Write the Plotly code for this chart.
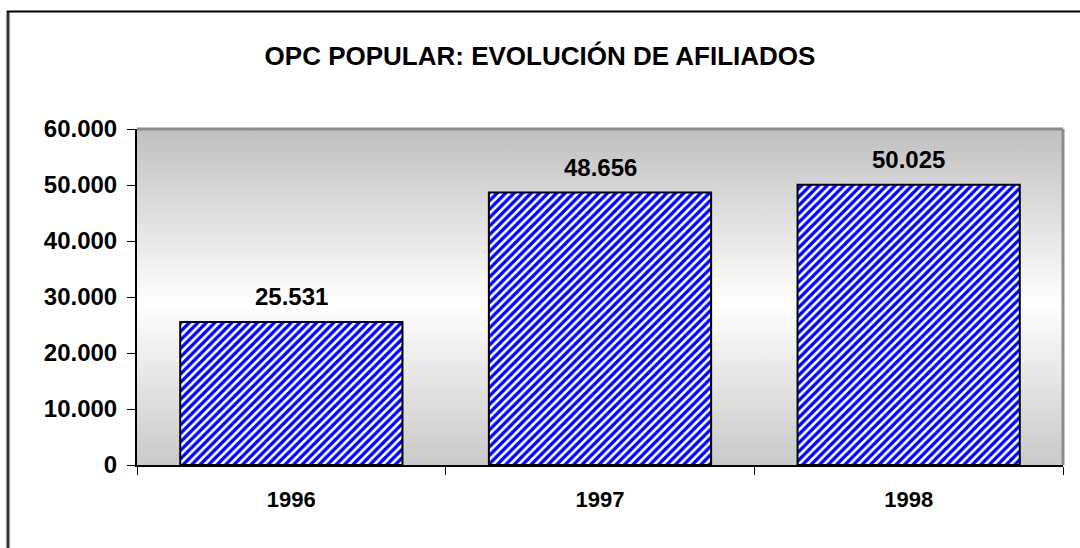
import base64
import plotly.graph_objects as go

years = ["1996", "1997", "1998"]
afiliados = [25531, 48656, 50025]
y_ticks = [0, 10000, 20000, 30000, 40000, 50000, 60000]
title_text = "OPC POPULAR: EVOLUCIÓN DE AFILIADOS"

W, H = 1080, 548
L, R, T, B = 137, 1063, 129, 465

FONT = "Liberation Sans, Arial, sans-serif"

svg = (
    '<svg xmlns="http://www.w3.org/2000/svg" width="100" height="100" preserveAspectRatio="none">'
    '<defs><linearGradient id="g" x1="0" y1="0" x2="0" y2="1">'
    '<stop offset="0" stop-color="#c0c0c0"/>'
    '<stop offset="0.52" stop-color="#ffffff"/>'
    '<stop offset="1" stop-color="#c9c9c9"/>'
    '</linearGradient></defs>'
    '<rect width="100" height="100" fill="url(#g)"/></svg>'
)
svg_uri = "data:image/svg+xml;base64," + base64.b64encode(svg.encode()).decode()

fig = go.Figure()
fig.add_trace(go.Bar(
    x=years, y=afiliados,
    marker=dict(
        color="white",
        opacity=1,
        line=dict(color="black", width=2),
        pattern=dict(shape="/", fgcolor="#0000ff", bgcolor="white",
                     fgopacity=1, fillmode="replace", size=6, solidity=0.55),
    ),
    hoverinfo="skip",
))

for i, v in enumerate(afiliados):
    fig.add_annotation(
        x=i, y=v, text=f"{v:,}".replace(",", "."),
        showarrow=False, yanchor="bottom", yshift=10,
        font=dict(family=FONT, size=24, color="black", weight="bold"),
    )

def px_x(p):
    return (p - L) / (R - L)

def px_y(p):
    return (B - p) / (B - T)

# outer chart border (cropped)
fig.add_shape(type="line", xref="paper", yref="paper",
              x0=px_x(8), x1=px_x(8), y0=px_y(11), y1=px_y(560),
              line=dict(color="#333333", width=3))
fig.add_shape(type="line", xref="paper", yref="paper",
              x0=px_x(7), x1=px_x(1090), y0=px_y(11.5), y1=px_y(11.5),
              line=dict(color="black", width=2))
# plot area frame (top & right, gray)
fig.add_shape(type="line", xref="paper", yref="paper",
              x0=0, x1=1, y0=1, y1=1, line=dict(color="#8c8c8c", width=3))
fig.add_shape(type="line", xref="paper", yref="paper",
              x0=1, x1=1, y0=0, y1=1, line=dict(color="#8c8c8c", width=3))

fig.update_layout(
    width=W, height=H,
    margin=dict(l=L, r=W - R, t=T, b=H - B, autoexpand=False),
    paper_bgcolor="white",
    plot_bgcolor="rgba(0,0,0,0)",
    separators=",.",
    showlegend=False,
    bargap=0.28,
    title=dict(
        text=title_text, x=0.5, xref="container", xanchor="center",
        y=1 - 56 / H, yref="container", yanchor="middle",
        font=dict(family=FONT, size=26, color="black", weight="bold"),
    ),
    images=[dict(source=svg_uri, xref="paper", yref="paper", x=0, y=1,
                 sizex=1, sizey=1, sizing="stretch", layer="below",
                 xanchor="left", yanchor="top")],
    xaxis=dict(
        type="category", range=[-0.5, 2.5],
        showline=True, linecolor="black", linewidth=2,
        ticks="outside", tickson="boundaries", ticklen=8, tickcolor="black", tickwidth=1,
        ticklabelstandoff=14,
        showgrid=False, zeroline=False,
        tickfont=dict(family=FONT, size=22, color="black", weight="bold"),
    ),
    yaxis=dict(
        range=[0, 60000], tickvals=y_ticks, tickformat=",d",
        showline=True, linecolor="black", linewidth=2,
        ticks="outside", ticklen=8, tickcolor="black", tickwidth=1,
        ticklabelstandoff=5,
        showgrid=False, zeroline=False,
        tickfont=dict(family=FONT, size=24, color="black", weight="bold"),
    ),
)

fig.write_html(
    "out.html",
    config={"displayModeBar": False},
    post_script="document.body.style.margin='0';document.body.style.overflow='hidden';",
)
